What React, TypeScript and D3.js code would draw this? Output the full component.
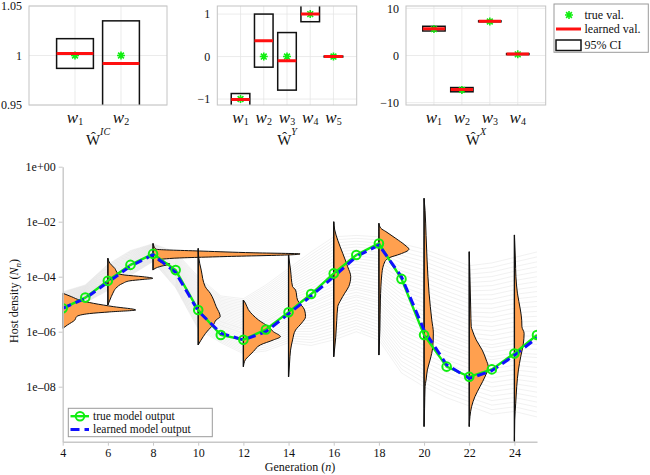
import { useEffect, useRef } from 'react'
import * as d3 from 'd3'

// ---- top panels: 95% CI of learned weights ----
const icTicks = [0.95, 1, 1.05]
const icTickLabels = ['0.95', '1', '1.05']
const icTrue = [1, 1]
const icLearned = [1.002, 0.992]
const icLow = [0.987, 0.94]
const icHigh = [1.017, 1.035]

const yTicksY = [-1, 0, 1]
const yTickLabelsY = ['\u22121', '0', '1']
const yTrue = [-1, 0, 0, 1, 0]
const yLearned = [-1.01, 0.37, -0.1, 1.0, 0.0]
const yLow = [-1.2, -0.25, -0.79, 0.82, -0.01]
const yHigh = [-0.87, 1.0, 0.565, 1.25, 0.01]

const xTicksX = [-10, 0, 10]
const xTickLabelsX = ['\u221210', '0', '10']
const xTrue = [5.6, -7.3, 7.2, 0.25]
const xLearned = [5.7, -7.2, 7.25, 0.3]
const xLow = [5.2, -7.7, 7.15, 0.2]
const xHigh = [6.2, -6.8, 7.35, 0.4]

// ---- main panel: host density (log10) per generation ----
const generations = [4, 5, 6, 7, 8, 9, 10, 11, 12, 13, 14, 15, 16, 17, 18, 19, 20, 21, 22, 23, 24, 25]
const trueOutput = [-5.15, -4.76, -4.15, -3.57, -3.17, -3.76, -5.21, -6.12, -6.29, -5.92, -5.29, -4.63, -3.88, -3.21, -2.79, -4.08, -6.12, -7.27, -7.64, -7.37, -6.79, -6.12]
const learnedOutput = [-5.15, -4.79, -4.2, -3.62, -3.2, -3.85, -5.25, -6.05, -6.3, -6.0, -5.35, -4.7, -4.0, -3.27, -2.85, -4.0, -5.95, -7.2, -7.7, -7.42, -6.86, -6.22]
// spread of the sampled trajectories (log10 upper / lower)
const ensembleHigh = [-4.55, -4.3, -3.55, -3.05, -2.8, -3.1, -4.0, -4.7, -4.8, -4.3, -3.7, -3.1, -2.55, -2.5, -2.55, -2.8, -3.0, -3.3, -3.6, -3.5, -3.3, -3.1]
const ensembleLow = [-5.3, -4.95, -4.5, -3.95, -3.45, -4.4, -5.9, -6.4, -6.8, -6.7, -6.4, -6.5, -6.3, -6.0, -6.3, -7.5, -8.0, -8.4, -8.7, -9.0, -8.9, -9.1]
const ensembleQuantiles = [0, 0.03, 0.06, 0.09, 0.12, 0.15, 0.18, 0.21, 0.24, 0.27, 0.3, 0.33, 0.36, 0.38, 0.41, 0.44, 0.46, 0.49, 0.52, 0.55, 0.58, 0.61, 0.64, 0.67, 0.7, 0.73, 0.76, 0.79, 0.82, 0.85, 0.88, 0.91, 0.94, 0.97, 1]

const violinGenerations = [4, 6, 8, 10, 12, 14, 16, 18, 20, 22, 24]
const violinLevels = [
  [-4.6, -4.73, -4.85, -4.97, -5.09, -5.21, -5.28, -5.34, -5.45, -5.58, -5.75, -5.88],
  [-3.33, -3.51, -3.7, -3.88, -3.94, -4.0, -4.06, -4.1, -4.15, -4.24, -4.42, -4.6, -4.85, -5.03],
  [-2.79, -2.9, -3.0, -3.07, -3.13, -3.17, -3.2, -3.27, -3.33, -3.4, -3.47, -3.54, -3.62, -3.7, -3.76],
  [-2.97, -3.3, -3.76, -4.36, -4.6, -5.09, -5.45, -5.57, -5.76, -5.94, -6.18, -6.48],
  [-4.85, -4.96, -5.2, -5.57, -5.82, -6.0, -6.18, -6.3, -6.48, -6.72, -6.9, -7.02, -7.27],
  [-3.21, -3.76, -4.36, -4.48, -4.85, -5.21, -5.45, -5.69, -5.94, -6.3, -6.67, -7.14, -7.64],
  [-2.0, -2.3, -2.67, -3.15, -3.64, -4.0, -4.36, -4.6, -4.85, -5.09, -5.6, -6.2, -6.91],
  [-2.06, -2.24, -2.36, -2.61, -2.85, -3.0, -3.18, -3.3, -3.45, -3.88, -4.85, -5.9, -6.85],
  [-1.15, -1.6, -2.5, -3.39, -4.6, -5.57, -6.05, -6.55, -7.03, -7.39, -7.76, -8.0, -8.8, -9.45],
  [-3.09, -4.0, -5.21, -5.82, -5.94, -6.3, -6.67, -7.03, -7.27, -7.64, -8.0, -8.36, -8.73, -9.09, -9.45],
  [-2.48, -3.39, -4.0, -4.6, -5.21, -5.58, -5.82, -6.06, -6.42, -6.91, -7.39, -8.0, -8.6, -9.21, -10],
]
const violinDensity = [
  [0, 9, 17, 31, 51, 73, 47, 27, 14, 12, 5, 0],
  [0, 2, 7, 10, 17, 35, 45, 35, 22, 15, 8, 5, 2, 0],
  [0, 1, 3, 50, 100, 147, 140, 70, 20, 5, 8, 17, 8, 2, 0],
  [0, 0.5, 3, 7, 12, 18, 22, 18, 15, 10, 5, 0],
  [0, 2, 5, 15, 25, 30, 37, 30, 17, 10, 5, 2, 0],
  [0, 2, 4, 7, 9, 16, 17, 13, 7, 4, 2, 1, 0],
  [0, 1, 4, 9, 14, 17, 15, 11, 7, 4, 3, 2, 0],
  [0, 2, 7, 17, 26, 30, 21, 11, 6, 3, 1.5, 1, 0],
  [0, 1, 2, 3, 5, 7.7, 9.3, 8.7, 6, 3.3, 2, 1, 0.5, 0],
  [0, 0.7, 1.5, 2, 3, 7, 13, 17, 19, 15.7, 10.7, 5.7, 2.3, 0.7, 0],
  [0, 1, 1.5, 3, 6, 7.3, 7.5, 9.7, 9, 6.3, 4, 2.3, 1.3, 0.3, 0],
]
const mainYTicks = [1e-8, 1e-6, 1e-4, 1e-2, 1]
const mainXTicks = [4, 6, 8, 10, 12, 14, 16, 18, 20, 22, 24]

const SERIF = "'Liberation Serif', 'Times New Roman', serif"
const GREEN = '#11ee11'
const BLUE = '#1010ff'
const ORANGE = '#ffa04f'

type Sel = d3.Selection<SVGSVGElement, unknown, null, undefined>

function asterisk(r: number) {
  const d = r * 0.72
  return `M${-r},0L${r},0M0,${-r}L0,${r}M${-d},${-d}L${d},${d}M${-d},${d}L${d},${-d}`
}

function drawPanel(svg: Sel, id: string, left: number, right: number, yDomain: [number, number],
  ticks: number[], tickLabels: string[], truth: number[], learned: number[], low: number[], high: number[], sup: string) {
  const top = 6, bottom = 105
  const n = truth.length
  const x = d3.scaleLinear().domain([0, n + 1]).range([left, right])
  const y = d3.scaleLinear().domain(yDomain).range([bottom, top])
  const g = svg.append('g')
  g.append('clipPath').attr('id', id).append('rect')
    .attr('x', left).attr('y', top).attr('width', right - left).attr('height', bottom - top)

  const idx = d3.range(1, n + 1)
  g.selectAll('.vg').data(idx).enter().append('line')
    .attr('x1', d => x(d)).attr('x2', d => x(d)).attr('y1', top).attr('y2', bottom)
    .attr('stroke', '#e6e6e6').attr('stroke-width', 0.8)
  g.selectAll('.hg').data(ticks).enter().append('line')
    .attr('x1', left).attr('x2', right).attr('y1', d => y(d)).attr('y2', d => y(d))
    .attr('stroke', '#e6e6e6').attr('stroke-width', 0.8)

  const body = g.append('g').attr('clip-path', `url(#${id})`)
  idx.forEach((k, i) => {
    body.append('rect')
      .attr('x', x(k - 0.4)).attr('width', x(k + 0.4) - x(k - 0.4))
      .attr('y', y(high[i])).attr('height', Math.max(0.6, y(low[i]) - y(high[i])))
      .attr('fill', 'none').attr('stroke', '#111').attr('stroke-width', 1.5)
    body.append('path').attr('d', asterisk(4))
      .attr('transform', `translate(${x(k)},${y(truth[i])})`)
      .attr('stroke', GREEN).attr('stroke-width', 1.6).attr('fill', 'none')
    body.append('line')
      .attr('x1', x(k - 0.4)).attr('x2', x(k + 0.4)).attr('y1', y(learned[i])).attr('y2', y(learned[i]))
      .attr('stroke', '#ff1010').attr('stroke-width', 3)
  })

  g.append('rect').attr('x', left).attr('y', top).attr('width', right - left).attr('height', bottom - top)
    .attr('fill', 'none').attr('stroke', '#c4c4c4').attr('stroke-width', 1)

  ticks.forEach((t, i) => {
    g.append('text').attr('x', left - 7).attr('y', y(t)).attr('dy', '0.35em')
      .attr('text-anchor', 'end').style('font-family', SERIF).style('font-size', '12px')
      .attr('fill', '#111').text(tickLabels[i])
  })

  idx.forEach(k => {
    const t = g.append('text').attr('x', x(k)).attr('y', 122.5).attr('text-anchor', 'middle')
      .style('font-family', SERIF).attr('fill', '#111')
    t.append('tspan').style('font-style', 'italic').style('font-size', '17px').text('w')
    t.append('tspan').style('font-size', '10px').attr('dy', 2).text(String(k))
  })

  const title = g.append('text').attr('x', (left + right) / 2).attr('y', 145).attr('text-anchor', 'middle')
    .style('font-family', SERIF).attr('fill', '#111')
  title.append('tspan').style('font-size', '15px').text('\u0174')
  title.append('tspan').style('font-size', '10px').style('font-style', 'italic').attr('dy', -10).text(sup)
}

export default function App() {
  const ref = useRef<SVGSVGElement>(null)

  useEffect(() => {
    if (!ref.current) return
    const svg = d3.select(ref.current)
    svg.selectAll('*').remove()

    drawPanel(svg, 'clipIC', 29, 167, [0.95, 1.05], icTicks, icTickLabels, icTrue, icLearned, icLow, icHigh, 'IC')
    drawPanel(svg, 'clipY', 217.3, 356.7, [-1.14, 1.19], yTicksY, yTickLabelsY, yTrue, yLearned, yLow, yHigh, 'Y')
    drawPanel(svg, 'clipX', 406, 545.7, [-10.5, 10.5], xTicksX, xTickLabelsX, xTrue, xLearned, xLow, xHigh, 'X')

    // top-right legend
    const lg = svg.append('g')
    lg.append('rect').attr('x', 554).attr('y', 4).attr('width', 94.3).attr('height', 48.3)
      .attr('fill', '#fff').attr('stroke', '#9a9a9a').attr('stroke-width', 1)
    lg.append('path').attr('d', asterisk(4)).attr('transform', 'translate(569,15)')
      .attr('stroke', GREEN).attr('stroke-width', 1.6).attr('fill', 'none')
    lg.append('line').attr('x1', 556).attr('x2', 581).attr('y1', 29).attr('y2', 29)
      .attr('stroke', '#ff1010').attr('stroke-width', 3)
    lg.append('rect').attr('x', 556).attr('y', 40).attr('width', 25).attr('height', 10.5)
      .attr('fill', '#fff').attr('stroke', '#111').attr('stroke-width', 1.5)
    ;['true val.', 'learned val.', '95% CI'].forEach((s, i) => {
      lg.append('text').attr('x', 584.5).attr('y', [15, 29, 45][i]).attr('dy', '0.35em')
        .style('font-family', SERIF).style('font-size', '12px').attr('fill', '#111').text(s)
    })

    // ---- main panel ----
    const x = d3.scaleLinear().domain([4, 25]).range([62.7, 537])
    const y = d3.scaleLog().domain([1e-10, 1]).range([441.7, 166.7])
    const p = (v: number) => Math.pow(10, v)

    const main = svg.append('g')
    main.append('clipPath').attr('id', 'clipMain').append('rect')
      .attr('x', 62.7).attr('y', 166.7).attr('width', 537 - 62.7).attr('height', 441.7 - 166.7)
    const plot = main.append('g').attr('clip-path', 'url(#clipMain)')

    // sampled trajectories
    const traj = d3.line<number>().x((_, i) => x(generations[i])).y(v => y(p(v)))
    ensembleQuantiles.forEach(q => {
      const vals = generations.map((_, i) => ensembleLow[i] + q * (ensembleHigh[i] - ensembleLow[i]))
      plot.append('path').attr('d', traj(vals)).attr('fill', 'none')
        .attr('stroke', '#bdbdbd').attr('stroke-opacity', 0.35).attr('stroke-width', 0.6)
    })

    // half violins
    const widthScale = d3.scaleLinear().domain([0, 147]).range([0, x(8 + 6.51) - x(8)])
    violinGenerations.forEach((gen, i) => {
      const pts = violinLevels[i].map((l, j) => [l, violinDensity[i][j]] as [number, number])
      const area = d3.area<[number, number]>()
        .y(d => y(p(d[0])))
        .x0(x(gen))
        .x1(d => x(gen) + widthScale(d[1]))
        .curve(d3.curveMonotoneY)
      plot.append('path').attr('d', area(pts)).attr('fill', ORANGE)
        .attr('stroke', '#111').attr('stroke-width', 1).attr('stroke-linejoin', 'round')
      plot.append('line').attr('x1', x(gen)).attr('x2', x(gen))
        .attr('y1', y(p(pts[0][0]))).attr('y2', y(p(pts[pts.length - 1][0])))
        .attr('stroke', '#111').attr('stroke-width', 1.3)
    })

    const series = d3.line<number>().x((_, i) => x(generations[i])).y(v => y(p(v)))
    plot.append('path').attr('d', series(trueOutput)).attr('fill', 'none')
      .attr('stroke', GREEN).attr('stroke-width', 2.4)
    plot.append('path').attr('d', series(learnedOutput)).attr('fill', 'none')
      .attr('stroke', BLUE).attr('stroke-width', 3).attr('stroke-dasharray', '9,5')
    plot.selectAll('.pt').data(trueOutput).enter().append('circle')
      .attr('cx', (_, i) => x(generations[i])).attr('cy', d => y(p(d))).attr('r', 4.3)
      .attr('fill', 'none').attr('stroke', GREEN).attr('stroke-width', 2)

    // axes
    const yAxis = main.append('g').attr('transform', 'translate(62.7,0)')
      .call(d3.axisLeft(y).tickValues(mainYTicks).tickSize(4).tickSizeOuter(0).tickPadding(3)
        .tickFormat(d => {
          const e = Math.round(Math.log10(+d))
          return `1e${e < 0 ? '\u2013' : '+'}${String(Math.abs(e)).padStart(2, '0')}`
        }))
    const xAxis = main.append('g').attr('transform', 'translate(0,441.7)')
      .call(d3.axisBottom(x).tickValues(mainXTicks).tickSize(4).tickSizeOuter(0).tickPadding(3)
        .tickFormat(d => String(d)))
    ;[yAxis, xAxis].forEach(a => {
      a.attr('color', '#c8c8c8').attr('font-family', SERIF).attr('font-size', 12)
      a.select('.domain').attr('stroke-width', 1.4)
      a.selectAll('text').attr('fill', '#111')
    })

    const yl = main.append('text').attr('transform', 'translate(18,301) rotate(-90)')
      .attr('text-anchor', 'middle').style('font-family', SERIF).style('font-size', '12px').attr('fill', '#111')
    yl.append('tspan').text('Host density (')
    yl.append('tspan').style('font-style', 'italic').text('N')
    yl.append('tspan').style('font-style', 'italic').style('font-size', '9px').attr('dy', 3).text('n')
    yl.append('tspan').attr('dy', -3).text(')')

    const xl = main.append('text').attr('x', 300).attr('y', 471)
      .attr('text-anchor', 'middle').style('font-family', SERIF).style('font-size', '12px').attr('fill', '#111')
    xl.append('tspan').text('Generation (')
    xl.append('tspan').style('font-style', 'italic').text('n')
    xl.append('tspan').text(')')

    // main legend
    const ml = main.append('g')
    ml.append('rect').attr('x', 68.3).attr('y', 408.3).attr('width', 144).attr('height', 28.4)
      .attr('fill', '#fff').attr('stroke', '#9a9a9a').attr('stroke-width', 1)
    ml.append('line').attr('x1', 70.5).attr('x2', 89).attr('y1', 416.2).attr('y2', 416.2)
      .attr('stroke', GREEN).attr('stroke-width', 2.4)
    ml.append('circle').attr('cx', 80).attr('cy', 416.2).attr('r', 4.3)
      .attr('fill', 'none').attr('stroke', GREEN).attr('stroke-width', 2)
    ml.append('line').attr('x1', 70.5).attr('x2', 89).attr('y1', 429.4).attr('y2', 429.4)
      .attr('stroke', BLUE).attr('stroke-width', 3).attr('stroke-dasharray', '9,5')
    ;['true model output', 'learned model output'].forEach((s, i) => {
      ml.append('text').attr('x', 93).attr('y', [416.2, 429.4][i]).attr('dy', '0.35em')
        .style('font-family', SERIF).style('font-size', '11.5px').attr('fill', '#111').text(s)
    })

    return () => { svg.selectAll('*').remove() }
  }, [])

  return (
    <svg ref={ref} width={650} height={475}
      style={{ position: 'absolute', left: 0, top: 0, background: '#fff' }} />
  )
}
